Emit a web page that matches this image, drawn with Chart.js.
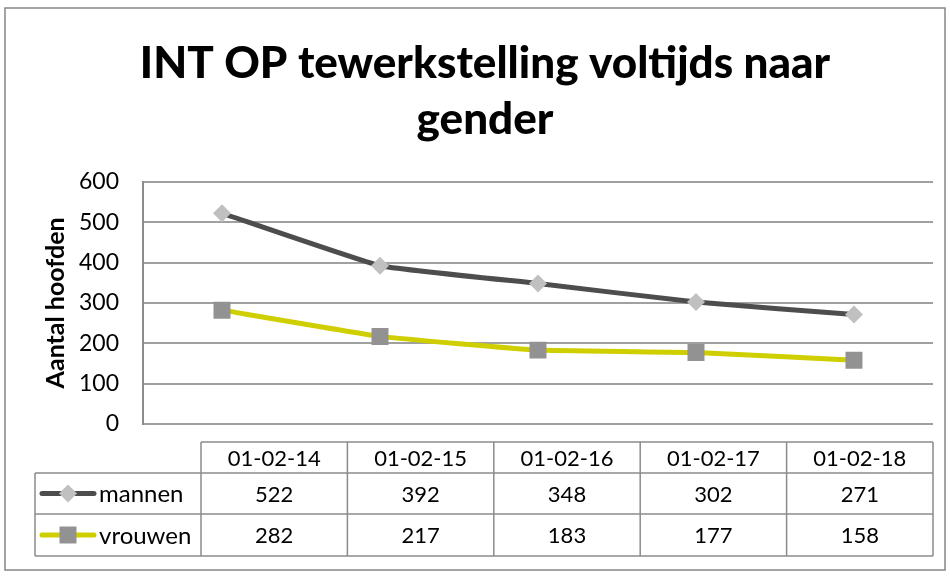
<!DOCTYPE html>
<html>
<head>
<meta charset="utf-8">
<script src="https://cdn.jsdelivr.net/npm/chart.js@4.4.1/dist/chart.umd.min.js"></script>
<style>
  html, body { margin: 0; padding: 0; background: #fff; }
  #wrap { width: 950px; height: 577px; }
</style>
</head>
<body>
<div id="wrap"><canvas id="chart" width="950" height="577"></canvas></div>
<script>
// gegevens
const datums = ['01-02-14', '01-02-15', '01-02-16', '01-02-17', '01-02-18'];
const mannen = [522, 392, 348, 302, 271];
const vrouwen = [282, 217, 183, 177, 158];
const yTicks = [0, 100, 200, 300, 400, 500, 600];

const FONT = 'Lato, Carlito, Calibri, sans-serif';

// kader rond de grafiek, titel iets naar rechts (zoals in Excel)
const kaderPlugin = {
    id: 'kader',
    afterLayout(chart) {
        if (chart.titleBlock) {
            chart.titleBlock.left = 33;
            chart.titleBlock.right = 937;
        }
    },
    beforeDraw(chart) {
        const ctx = chart.ctx;
        ctx.save();
        ctx.strokeStyle = '#868686';
        ctx.lineWidth = 1.5;
        ctx.strokeRect(5, 8, 940, 562);
        ctx.restore();
    }
};

// gegevenstabel onder de grafiek
const tabelPlugin = {
    id: 'tabel',
    afterDraw(chart) {
        const ctx = chart.ctx;
        const area = chart.chartArea;
        const links = 35, kolomStart = 201, rechts = area.right;
        const rijen = [area.bottom + 18, area.bottom + 49, area.bottom + 90, area.bottom + 132];
        const kolomBreedte = (rechts - kolomStart) / datums.length;

        ctx.save();
        ctx.strokeStyle = '#8c8c8c';
        ctx.lineWidth = 1.5;
        ctx.beginPath();
        // horizontale lijnen
        ctx.moveTo(kolomStart, rijen[0]); ctx.lineTo(rechts, rijen[0]);
        for (let i = 1; i < rijen.length; i++) {
            ctx.moveTo(links, rijen[i]); ctx.lineTo(rechts, rijen[i]);
        }
        // verticale lijnen
        ctx.moveTo(links, rijen[1]); ctx.lineTo(links, rijen[3]);
        for (let i = 0; i <= datums.length; i++) {
            const x = kolomStart + i * kolomBreedte;
            ctx.moveTo(x, rijen[0]); ctx.lineTo(x, rijen[3]);
        }
        ctx.stroke();

        ctx.fillStyle = '#000';
        ctx.font = '22px ' + FONT;
        ctx.textAlign = 'center';
        ctx.textBaseline = 'middle';
        datums.forEach((d, i) => {
            const x = kolomStart + (i + 0.5) * kolomBreedte;
            ctx.fillText(d, x, (rijen[0] + rijen[1]) / 2 + 1);
        });

        chart.data.datasets.forEach((ds, r) => {
            const yMid = (rijen[r + 1] + rijen[r + 2]) / 2 + 1;
            ctx.font = '22px ' + FONT;
            ds.data.forEach((v, i) => {
                const x = kolomStart + (i + 0.5) * kolomBreedte;
                ctx.fillText(String(v), x, yMid);
            });
            // legendasymbool
            ctx.save();
            ctx.strokeStyle = ds.borderColor;
            ctx.lineWidth = 5;
            ctx.lineCap = 'round';
            ctx.beginPath();
            ctx.moveTo(42, yMid - 1); ctx.lineTo(94, yMid - 1);
            ctx.stroke();
            ctx.fillStyle = ds.pointBackgroundColor;
            Chart.helpers.drawPoint(ctx, {
                pointStyle: ds.pointStyle,
                radius: ds.pointRadius,
                rotation: 0,
                borderWidth: 0
            }, 68, yMid - 1);
            ctx.restore();
            ctx.textAlign = 'left';
            ctx.font = '24px ' + FONT;
            ctx.fillText(ds.label, 99, yMid);
            ctx.textAlign = 'center';
        });
        ctx.restore();
    }
};

new Chart(document.getElementById('chart'), {
    type: 'line',
    data: {
        labels: datums,
        datasets: [
            {
                label: 'mannen',
                data: mannen,
                borderColor: '#4d4d4d',
                borderWidth: 5,
                pointStyle: 'rectRot',
                pointRadius: 9,
                pointBackgroundColor: '#c0c0c0',
                pointBorderWidth: 0,
                pointHoverRadius: 9,
                tension: 0.1
            },
            {
                label: 'vrouwen',
                data: vrouwen,
                borderColor: '#cfcf00',
                borderWidth: 5,
                pointStyle: 'rect',
                pointRadius: 12,
                pointBackgroundColor: '#929292',
                pointBorderWidth: 0,
                pointHoverRadius: 12,
                tension: 0.1
            }
        ]
    },
    options: {
        responsive: false,
        animation: false,
        layout: {
            padding: { left: 5, right: 17, top: 8, bottom: 153 }
        },
        scales: {
            x: {
                display: false,
                offset: true
            },
            y: {
                min: 0,
                max: 600,
                afterBuildTicks: (scale) => {
                    scale.ticks = yTicks.map(v => ({ value: v }));
                },
                afterFit: (scale) => {
                    scale.width = 138;
                },
                grid: {
                    color: '#a0a0a0',
                    lineWidth: 2,
                    drawTicks: false
                },
                border: {
                    color: '#8c8c8c',
                    width: 2
                },
                ticks: {
                    color: '#000',
                    padding: 24,
                    font: { family: FONT, size: 23 }
                },
                title: {
                    display: true,
                    text: 'Aantal hoofden',
                    color: '#000',
                    padding: { top: 36, bottom: 0 },
                    font: { family: FONT, size: 25, weight: 'bold' }
                }
            }
        },
        plugins: {
            legend: { display: false },
            tooltip: { enabled: false },
            title: {
                display: true,
                text: ['INT OP tewerkstelling voltijds naar', 'gender'],
                color: '#000',
                padding: { top: 28, bottom: 34 },
                font: { family: FONT, size: 44, weight: '900', lineHeight: 1.27 }
            }
        }
    },
    plugins: [kaderPlugin, tabelPlugin]
});
</script>
</body>
</html>
